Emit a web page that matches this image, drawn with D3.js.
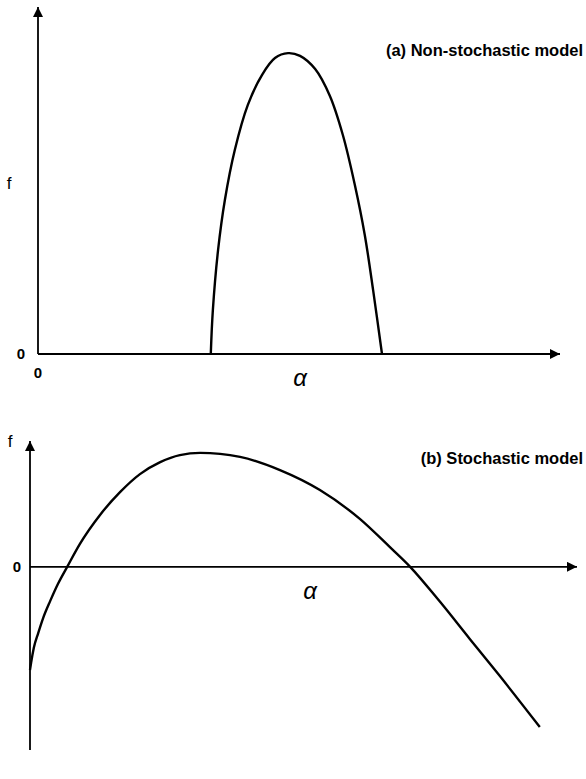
<!DOCTYPE html>
<html>
<head>
<meta charset="utf-8">
<script src="https://cdn.jsdelivr.net/npm/d3@7"></script>
<style>
  html, body { margin: 0; padding: 0; background: #fff; }
  svg { display: block; }
  text { font-family: "Liberation Sans", Arial, sans-serif; fill: #000; }
</style>
</head>
<body>
<svg id="chart" width="586" height="779"></svg>
<script>
// Panel (a): non-stochastic model, f as a function of alpha
const alphaA = [3.31, 3.35, 3.45, 3.58, 3.77, 4.02, 4.29, 4.54, 4.79, 5.02, 5.31, 5.59, 5.84, 6.07, 6.26, 6.42, 6.59];
const fA     = [0.00, 1.27, 3.00, 4.44, 5.88, 7.18, 8.04, 8.53, 8.67, 8.59, 8.21, 7.44, 6.31, 4.87, 3.43, 1.84, 0.00];

// Panel (b): stochastic model
const alphaB = [0.00, 0.02, 0.07, 0.15, 0.24, 0.37, 0.51, 0.68, 0.91, 1.28, 1.65, 2.01, 2.38, 2.74, 3.11, 3.84, 4.57, 5.30, 6.03, 6.58, 6.95, 7.50, 8.04, 8.59, 9.32];
const fB     = [-3.36, -3.13, -2.64, -2.16, -1.67, -1.11, -0.56, 0.00, 0.74, 1.69, 2.44, 3.02, 3.41, 3.64, 3.71, 3.58, 3.15, 2.50, 1.56, 0.64, 0.00, -1.15, -2.35, -3.56, -5.22];

const titles = ["(a) Non-stochastic model", "(b) Stochastic model"];
const zeroTick = ["0"];

const svg = d3.select("#chart");

// arrowhead marker
const defs = svg.append("defs");
defs.append("marker")
  .attr("id", "arrow")
  .attr("viewBox", "0 0 10 10")
  .attr("refX", 10).attr("refY", 5)
  .attr("markerWidth", 11).attr("markerHeight", 10)
  .attr("markerUnits", "userSpaceOnUse")
  .attr("orient", "auto")
  .append("path")
  .attr("d", "M0,0 L10,5 L0,10 Z")
  .attr("fill", "#000");

function drawAxes(g, x, y, xEnd, yTop, yBottom) {
  // horizontal axis at f = 0
  g.append("line")
    .attr("x1", x(0)).attr("x2", xEnd)
    .attr("y1", y(0)).attr("y2", y(0))
    .attr("stroke", "#000").attr("stroke-width", 1.8)
    .attr("marker-end", "url(#arrow)");
  // vertical axis at alpha = 0
  g.append("line")
    .attr("x1", x(0)).attr("x2", x(0))
    .attr("y1", yBottom).attr("y2", yTop)
    .attr("stroke", "#000").attr("stroke-width", 1.8)
    .attr("marker-end", "url(#arrow)");
}

const line = (x, y, curve) => d3.line()
  .x(d => x(d[0]))
  .y(d => y(d[1]))
  .curve(curve);

const titleStyle = t => t.attr("text-anchor", "end").attr("font-size", 16.5)
  .attr("font-weight", "bold").attr("font-family", "Liberation Sans, Arial, sans-serif");
const alphaStyle = t => t.attr("text-anchor", "middle").attr("font-size", 24)
  .attr("font-style", "italic").attr("font-family", "DejaVu Sans");

// ---------- Panel (a) ----------
{
  const x = d3.scaleLinear().domain([0, 10]).range([38, 560]);
  const y = d3.scaleLinear().domain([0, 10]).range([354, 7]);
  const g = svg.append("g");
  drawAxes(g, x, y, x(10), y(10), y(0));

  g.append("path")
    .datum(d3.zip(alphaA, fA))
    .attr("d", line(x, y, d3.curveCatmullRom.alpha(0.5)))
    .attr("fill", "none").attr("stroke", "#000").attr("stroke-width", 2.4);

  g.append("text").attr("x", 583).attr("y", 56).call(titleStyle).text(titles[0]);
  g.append("text").attr("x", 9).attr("y", 189)
    .attr("text-anchor", "middle").attr("font-size", 17)
    .text("f");
  g.append("text").attr("x", 21).attr("y", y(0) + 5)
    .attr("text-anchor", "middle").attr("font-size", 15).attr("font-weight", "bold")
    .text(zeroTick[0]);
  g.append("text").attr("x", x(0)).attr("y", 378)
    .attr("text-anchor", "middle").attr("font-size", 15).attr("font-weight", "bold")
    .text(zeroTick[0]);
  g.append("text").attr("x", 300).attr("y", 386).call(alphaStyle).text("α");
}

// ---------- Panel (b) ----------
{
  const x = d3.scaleLinear().domain([0, 10]).range([30, 577]);
  const y = d3.scaleLinear().domain([-6, 4]).range([751, 444]);
  const g = svg.append("g");
  drawAxes(g, x, y, x(10), 441, 750);

  g.append("path")
    .datum(d3.zip(alphaB, fB))
    .attr("d", line(x, y, d3.curveMonotoneX))
    .attr("fill", "none").attr("stroke", "#000").attr("stroke-width", 2.4);

  g.append("text").attr("x", 583).attr("y", 464).call(titleStyle).text(titles[1]);
  g.append("text").attr("x", 10).attr("y", 447)
    .attr("text-anchor", "middle").attr("font-size", 17)
    .text("f");
  g.append("text").attr("x", 17).attr("y", y(0) + 5)
    .attr("text-anchor", "middle").attr("font-size", 15).attr("font-weight", "bold")
    .text(zeroTick[0]);
  g.append("text").attr("x", 310).attr("y", 599).call(alphaStyle).text("α");
}
</script>
</body>
</html>
